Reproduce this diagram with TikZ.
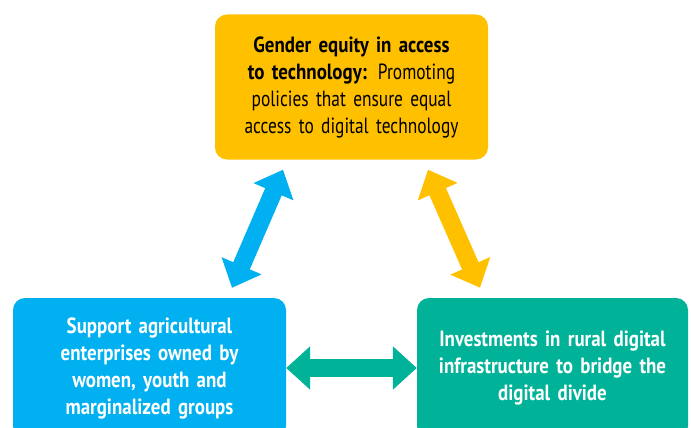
\documentclass[tikz,border=0pt]{standalone}
\usepackage{fontspec}
\setmainfont[FakeStretch=0.79,BoldFeatures={FakeStretch=0.86}]{PT Sans}
\usetikzlibrary{arrows.meta,positioning}
\definecolor{gold}{RGB}{255,192,0}
\definecolor{sky}{RGB}{0,176,240}
\definecolor{jade}{RGB}{0,179,152}

\begin{document}
\begin{tikzpicture}[
  x=1pt,y=-1pt,
  font=\fontsize{22}{27}\selectfont,
  card/.style={rounded corners=12pt,minimum width=273pt,minimum height=140pt,align=center,inner sep=4pt,text width=262pt},
  link/.style={line width=18pt,{Triangle[length=24pt,width=42pt]}-{Triangle[length=24pt,width=42pt]}}
]
\useasboundingbox (0,0) rectangle (691,428);

\node[card,fill=gold,minimum height=145pt] (equity) at (351.5,87) {\textbf{Gender equity in access}\\\textbf{to technology:} Promoting\\policies that ensure equal\\access to digital technology};
\node[card,fill=sky,text=white,font=\fontsize{22}{27}\selectfont\bfseries] (support) at (149.5,368) {Support agricultural\\enterprises owned by\\women, youth and\\marginalized groups};
\node[card,fill=jade,text=white,font=\fontsize{22}{27}\selectfont\bfseries,minimum width=271pt] (invest) at (552.5,368) {Investments in rural digital\\infrastructure to bridge the\\digital divide};

% two-way links
\draw[link,sky] ([xshift=82.5pt,yshift=10pt]support.north) -- ([xshift=-68.5pt,yshift=-10pt]equity.south);
\draw[link,gold] ([xshift=76.5pt,yshift=-10pt]equity.south) -- ([xshift=-72.5pt,yshift=10pt]invest.north);
\draw[link,jade] (support.east) -- (invest.west);
\end{tikzpicture}
\end{document}
